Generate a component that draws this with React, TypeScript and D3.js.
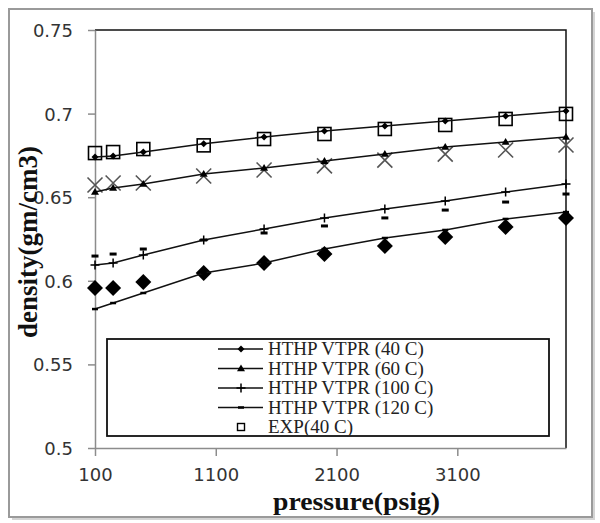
import React, { useEffect, useRef } from 'react';
import * as d3 from 'd3';

// pressure (psig) and density (gm/cm3)
const pressure = [100, 250, 500, 1000, 1500, 2000, 2500, 3000, 3500, 4000];
const vtpr40 = [0.674, 0.6746, 0.677, 0.682, 0.686, 0.6896, 0.6926, 0.6956, 0.6986, 0.7016];
const vtpr60 = [0.6531, 0.6555, 0.6579, 0.6639, 0.6675, 0.6716, 0.6758, 0.68, 0.683, 0.686];
const vtpr100 = [0.6094, 0.6106, 0.6154, 0.6244, 0.631, 0.6376, 0.643, 0.6477, 0.6531, 0.6579];
const vtpr120 = [0.5831, 0.5867, 0.5927, 0.6047, 0.6106, 0.619, 0.6256, 0.6304, 0.637, 0.6411];
const exp40 = [0.6764, 0.677, 0.6788, 0.681, 0.6848, 0.6878, 0.6908, 0.6932, 0.6968, 0.6998];
const exp60 = [0.6573, 0.6585, 0.6585, 0.6627, 0.6663, 0.6687, 0.6722, 0.6758, 0.6782, 0.6812];
const exp100 = [0.6148, 0.616, 0.619, 0.6244, 0.6286, 0.6328, 0.6376, 0.6423, 0.6471, 0.6519];
const exp120 = [0.5957, 0.5957, 0.5993, 0.6047, 0.6106, 0.616, 0.6208, 0.6262, 0.6322, 0.6376];

const yTicks = [0.5, 0.55, 0.6, 0.65, 0.7, 0.75];
const xTicks = [100, 1100, 2100, 3100];
const legendLabels = ['HTHP VTPR (40 C)', 'HTHP VTPR (60 C)', 'HTHP VTPR (100 C)', 'HTHP VTPR (120 C)', 'EXP(40 C)'];

const App = () => {
  const svgRef = useRef(null);

  useEffect(() => {
    const width = 600;
    const height = 523;
    const svg = d3.select(svgRef.current).attr('width', width).attr('height', height);
    svg.selectAll('*').remove();

    const x = d3.scaleLinear().domain([100, 4000]).range([95, 566]);
    const y = d3.scaleLinear().domain([0.5, 0.75]).range([448, 30]);

    // outer chart frame
    svg.append('rect').attr('x', 0).attr('y', 0).attr('width', width).attr('height', height).attr('fill', '#fff');
    svg.append('rect')
      .attr('x', 9).attr('y', 9).attr('width', 583).attr('height', 508)
      .attr('fill', 'none').attr('stroke', '#9a9a9a').attr('stroke-width', 2);
    svg.append('path')
      .attr('d', 'M594,12 V519 H12')
      .attr('fill', 'none').attr('stroke', '#d4d4d4').attr('stroke-width', 2);

    // plot border: top/right black, left/bottom grey axes
    svg.append('path')
      .attr('d', `M${x(100)},${y(0.75)} H${x(4000)} V${y(0.5)}`)
      .attr('fill', 'none').attr('stroke', '#111').attr('stroke-width', 1.5);

    const axisColor = '#8c8c8c';
    const yAxis = d3.axisLeft(y).tickValues(yTicks).tickSize(7).tickSizeOuter(0)
      .tickFormat(d => String(d));
    const gy = svg.append('g').attr('transform', `translate(${x(100)},0)`).call(yAxis);
    const xAxis = d3.axisBottom(x).tickValues(xTicks).tickSize(8).tickSizeOuter(0)
      .tickFormat(d => String(d));
    const gx = svg.append('g').attr('transform', `translate(0,${y(0.5)})`).call(xAxis);

    [gx, gy].forEach(g => {
      g.select('.domain').attr('stroke', axisColor).attr('stroke-width', 1.5);
      g.selectAll('.tick line').attr('stroke', axisColor).attr('stroke-width', 1.5);
      g.selectAll('.tick text')
        .attr('fill', '#333')
        .style('font-family', '"DejaVu Sans", sans-serif')
        .style('font-size', '18px');
    });
    gy.selectAll('.tick text').attr('x', -22).attr('dy', '0.36em');
    gx.selectAll('.tick text').attr('y', 20).attr('dy', '0.71em');

    // axis titles
    svg.append('text')
      .attr('transform', `translate(37,242) rotate(-90)`)
      .attr('text-anchor', 'middle')
      .style('font-family', '"Liberation Serif", serif')
      .style('font-weight', 'bold')
      .style('font-size', '27px')
      .attr('fill', '#111')
      .text('density(gm/cm3)');
    svg.append('text')
      .attr('x', 273).attr('y', 510)
      .attr('textLength', 167)
      .attr('lengthAdjust', 'spacingAndGlyphs')
      .style('font-family', '"Liberation Serif", serif')
      .style('font-weight', 'bold')
      .style('font-size', '25px')
      .attr('fill', '#111')
      .text('pressure(psig)');

    // marker drawers
    const diamond = (g, cx, cy, r) =>
      g.append('path').attr('d', `M${cx},${cy - r} L${cx + r},${cy} L${cx},${cy + r} L${cx - r},${cy} Z`).attr('fill', '#000');
    const triangle = (g, cx, cy, r) =>
      g.append('path').attr('d', `M${cx},${cy - r} L${cx + r},${cy + r * 0.7} L${cx - r},${cy + r * 0.7} Z`).attr('fill', '#000');
    const plus = (g, cx, cy, r) =>
      g.append('path').attr('d', `M${cx - r},${cy} H${cx + r} M${cx},${cy - r} V${cy + r}`).attr('stroke', '#000').attr('stroke-width', 1.5);
    const dash = (g, cx, cy, w, h) =>
      g.append('rect').attr('x', cx - w / 2).attr('y', cy - h / 2).attr('width', w).attr('height', h).attr('fill', '#000');
    const square = (g, cx, cy, r, sw) =>
      g.append('rect').attr('x', cx - r).attr('y', cy - r).attr('width', 2 * r).attr('height', 2 * r)
        .attr('fill', 'none').attr('stroke', '#000').attr('stroke-width', sw);
    const cross = (g, cx, cy, r) =>
      g.append('path').attr('d', `M${cx - r},${cy - r} L${cx + r},${cy + r} M${cx + r},${cy - r} L${cx - r},${cy + r}`)
        .attr('stroke', '#555').attr('stroke-width', 1.6);

    const line = d3.line().x(d => x(d[0])).y(d => y(d[1]));
    const plot = svg.append('g');

    // experimental points
    pressure.forEach((p, i) => {
      square(plot, x(p), y(exp40[i]), 6.5, 1.6);
      cross(plot, x(p), y(exp60[i]), 7.5);
      dash(plot, x(p), y(exp100[i]), 7, 3);
      diamond(plot, x(p), y(exp120[i]), 8);
    });

    // model lines
    [vtpr40, vtpr60, vtpr100, vtpr120].forEach(vals => {
      plot.append('path')
        .datum(pressure.map((p, i) => [p, vals[i]]))
        .attr('d', line)
        .attr('fill', 'none').attr('stroke', '#111').attr('stroke-width', 1.5);
    });
    pressure.forEach((p, i) => {
      diamond(plot, x(p), y(vtpr40[i]), 3.5);
      triangle(plot, x(p), y(vtpr60[i]), 4);
      plus(plot, x(p), y(vtpr100[i]), 4.5);
      dash(plot, x(p), y(vtpr120[i]), 6, 2.5);
    });

    // legend
    const lg = svg.append('g');
    lg.append('rect')
      .attr('x', 107).attr('y', 339).attr('width', 442).attr('height', 97)
      .attr('fill', '#fff').attr('stroke', '#111').attr('stroke-width', 1.8);
    const rowY = d3.scaleLinear().domain([0, 4]).range([349, 427]);
    legendLabels.forEach((label, i) => {
      const ry = rowY(i);
      if (i < 4) {
        lg.append('line').attr('x1', 218).attr('x2', 263).attr('y1', ry).attr('y2', ry)
          .attr('stroke', '#111').attr('stroke-width', 1.5);
      }
      if (i === 0) diamond(lg, 241, ry, 3.5);
      if (i === 1) triangle(lg, 241, ry, 4);
      if (i === 2) plus(lg, 241, ry, 4.5);
      if (i === 3) dash(lg, 241, ry, 6, 2.5);
      if (i === 4) square(lg, 241, ry, 3.5, 1.4);
      lg.append('text')
        .attr('x', 268).attr('y', ry + 6)
        .style('font-family', '"Liberation Serif", serif')
        .style('font-size', '19px')
        .attr('fill', '#222')
        .text(label);
    });
  }, []);

  return (
    <div style={{ position: 'absolute', left: 0, top: 0 }}>
      <svg ref={svgRef} style={{ display: 'block' }}></svg>
    </div>
  );
};

export default App;
